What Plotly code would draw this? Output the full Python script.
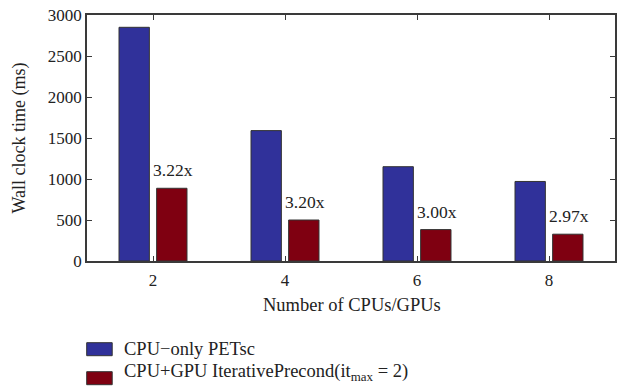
import plotly.graph_objects as go

cpus = [2, 4, 6, 8]
cpu_only = [2850, 1590, 1150, 970]
cpu_gpu = [887, 500, 383, 327]
speedup = ["3.22x", "3.20x", "3.00x", "2.97x"]
names = ["CPU\u2212only PETsc", "CPU+GPU IterativePrecond(it<sub>max</sub> = 2)"]
colors = ["#30319a", "#7f0011"]

FONT = "Liberation Serif"
AX = "#3a3a3a"
TXT = "#222222"
W, H = 619, 389
ML, MR, MT, MB = 87, 2, 15, 128
PW, PH = W - ML - MR, H - MT - MB


def px(x):
    return (x - ML) / PW


def py(y):
    return (H - MB - y) / PH


fig = go.Figure()
fig.add_trace(go.Bar(x=cpus, y=cpu_only, name=names[0], width=0.46, offset=-0.515,
                     marker=dict(color=colors[0], line=dict(color="#333333", width=1))))
fig.add_trace(go.Bar(x=cpus, y=cpu_gpu, name=names[1], width=0.46, offset=0.055,
                     marker=dict(color=colors[1], line=dict(color="#333333", width=1))))

for xv, yv, t in zip(cpus, cpu_gpu, speedup):
    fig.add_annotation(x=xv, y=yv, text=t, showarrow=False, xanchor="left",
                       yanchor="middle", yshift=18, xshift=-2,
                       font=dict(family=FONT, size=17.5, color=TXT))

fig.add_annotation(x=px(353.5), y=py(305), xref="paper", yref="paper",
                   text="Number of CPUs/GPUs", showarrow=False, yanchor="middle",
                   font=dict(family=FONT, size=18.5, color=TXT))

# manual legend
legend_text_y = [349, 372]
for i, (nm, c) in enumerate(zip(names, colors)):
    top = 342.7 + 29 * i
    fig.add_shape(type="rect", xref="paper", yref="paper",
                  x0=px(86.7), x1=px(112.3), y0=py(top), y1=py(top + 13),
                  fillcolor=c, line=dict(color="#333333", width=1))
    fig.add_annotation(x=px(122), y=py(legend_text_y[i]), xref="paper", yref="paper",
                       text=nm, showarrow=False, xanchor="left", yanchor="middle",
                       font=dict(family=FONT, size=18.5, color=TXT))

fig.update_layout(
    width=W, height=H,
    margin=dict(l=ML, r=MR, t=MT, b=MB),
    plot_bgcolor="white", paper_bgcolor="white",
    barmode="overlay",
    font=dict(family=FONT, size=17, color=TXT),
    showlegend=False,
    xaxis=dict(range=[1, 9], tickvals=cpus, ticks="inside", ticklen=5, tickcolor=AX,
               showline=True, linecolor=AX, linewidth=1.5, mirror="ticks",
               ticklabelstandoff=3,
               showgrid=False, zeroline=False, tickfont=dict(family=FONT, size=17)),
    yaxis=dict(range=[0, 3000], dtick=500, ticks="inside", ticklen=5, tickcolor=AX,
               showline=True, linecolor=AX, linewidth=1.5, mirror="ticks",
               showgrid=False, zeroline=False, tickfont=dict(family=FONT, size=17),
               title=dict(text="Wall clock time (ms)", standoff=18,
                          font=dict(family=FONT, size=18))),
)
fig.write_html("out.html")
